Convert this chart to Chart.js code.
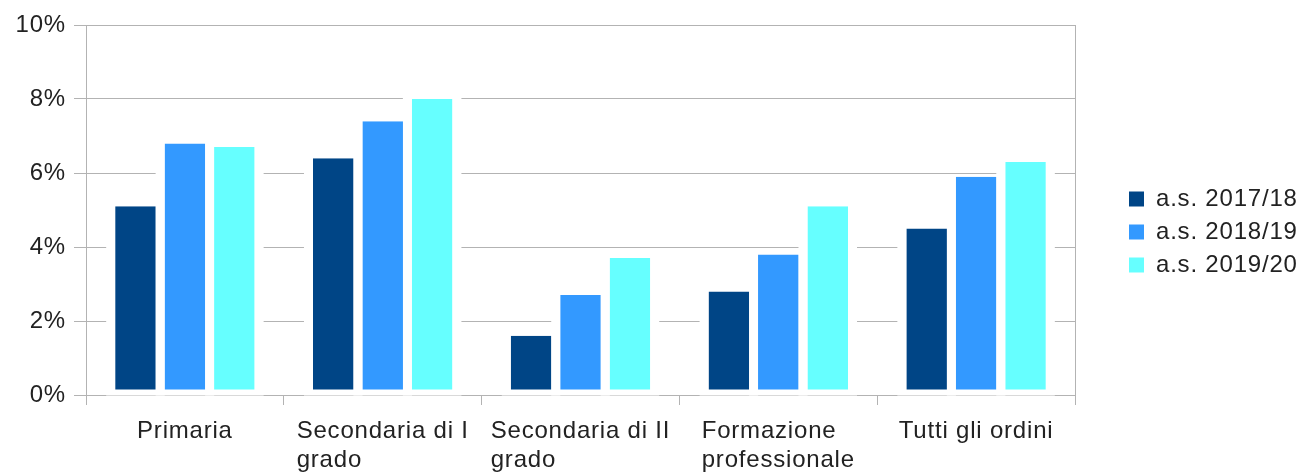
<!DOCTYPE html>
<html>
<head>
<meta charset="utf-8">
<script src="https://cdn.jsdelivr.net/npm/chart.js@4.4.1/dist/chart.umd.min.js"></script>
<style>
html,body{margin:0;padding:0;background:#fff;}
#wrap{width:1301px;height:472px;}
</style>
</head>
<body>
<div id="wrap"><canvas id="c" width="1301" height="472"></canvas></div>
<script>
const categories = [['Primaria'], ['Secondaria di I', 'grado'], ['Secondaria di II', 'grado'], ['Formazione', 'professionale'], ['Tutti gli ordini']];
const seriesNames = ['a.s. 2017/18', 'a.s. 2018/19', 'a.s. 2019/20'];
const values2017 = [5.1, 6.4, 1.6, 2.8, 4.5];
const values2018 = [6.8, 7.4, 2.7, 3.8, 5.9];
const values2019 = [6.7, 8.0, 3.7, 5.1, 6.3];
const yTickLabels = ['0%', '2%', '4%', '6%', '8%', '10%'];
const seriesColors = ['#004586', '#3399ff', '#66ffff'];

const FONT = '"Liberation Sans", Arial, sans-serif';
const FSIZE = 24;
const LSP = '0.8px';
const TEXT = '#222222';
const GRID = '#b3b3b3';

const spacing = {
  id: 'spacing',
  beforeUpdate(c) { c.ctx.letterSpacing = LSP; },
  beforeLayout(c) { c.ctx.letterSpacing = LSP; },
  beforeDraw(c) { c.ctx.letterSpacing = LSP; }
};

const halo = {
  id: 'halo',
  beforeDatasetsDraw(chart) {
    const ctx = chart.ctx;
    ctx.save();
    ctx.fillStyle = '#ffffff';
    chart.data.datasets.forEach((ds, i) => {
      chart.getDatasetMeta(i).data.forEach(el => {
        const p = el.getProps(['x', 'y', 'base', 'width'], true);
        ctx.fillRect(p.x - p.width / 2 - 9, p.y - 1, p.width + 18, p.base - p.y + 2);
      });
    });
    ctx.restore();
  }
};

const xLabels = {
  id: 'xLabels',
  afterDraw(chart) {
    const ctx = chart.ctx, xs = chart.scales.x;
    ctx.save();
    ctx.letterSpacing = LSP;
    ctx.font = FSIZE + 'px ' + FONT;
    ctx.fillStyle = TEXT;
    ctx.textAlign = 'left';
    ctx.textBaseline = 'alphabetic';
    categories.forEach((lines, i) => {
      const cx = xs.getPixelForValue(i);
      const w = Math.max(...lines.map(l => ctx.measureText(l).width));
      lines.forEach((l, k) => ctx.fillText(l, cx - w / 2, xs.top + 42.5 + k * 29));
    });
    ctx.restore();
  }
};

const datasets = [values2017, values2018, values2019].map((vals, i) => ({
  label: seriesNames[i],
  data: vals,
  backgroundColor: seriesColors[i],
  borderColor: '#ffffff',
  borderWidth: {top: 0, right: 0, bottom: 5, left: 0},
  borderSkipped: false,
  inflateAmount: 0,
  categoryPercentage: 0.75,
  barPercentage: 0.82
}));

new Chart(document.getElementById('c'), {
  type: 'bar',
  data: { labels: categories, datasets },
  plugins: [spacing, halo, xLabels],
  options: {
    responsive: false,
    animation: false,
    layout: { padding: { top: 25, bottom: 33, left: 0, right: 0 } },
    plugins: {
      tooltip: { enabled: false },
      legend: {
        position: 'right',
        align: 'center',
        maxWidth: 181,
        labels: {
          boxWidth: 15,
          boxHeight: 15,
          padding: 9,
          color: TEXT,
          font: { family: FONT, size: FSIZE },
          generateLabels: (chart) => Chart.defaults.plugins.legend.labels.generateLabels(chart)
            .map(l => Object.assign(l, { lineWidth: 0, strokeStyle: l.fillStyle }))
        }
      }
    },
    scales: {
      x: {
        grid: { drawOnChartArea: false, drawTicks: true, tickLength: 10, color: GRID, offset: true },
        border: { display: true, color: GRID },
        ticks: { display: false },
        afterFit(s) { s.height = 44; }
      },
      y: {
        min: 0, max: 10,
        grid: { color: GRID, tickLength: 12, drawTicks: true },
        border: { display: true, color: GRID },
        ticks: {
          stepSize: 2,
          padding: 8,
          color: TEXT,
          font: { family: FONT, size: FSIZE },
          callback: (v) => yTickLabels[Math.round(v / 2)]
        },
        afterFit(s) { s.width = 86; }
      },
      y2: {
        position: 'right',
        min: 0, max: 10,
        grid: { display: false, drawTicks: false },
        border: { display: true, color: GRID },
        ticks: { display: false },
        afterFit(s) { s.width = 45; }
      }
    }
  }
});
</script>
</body>
</html>
